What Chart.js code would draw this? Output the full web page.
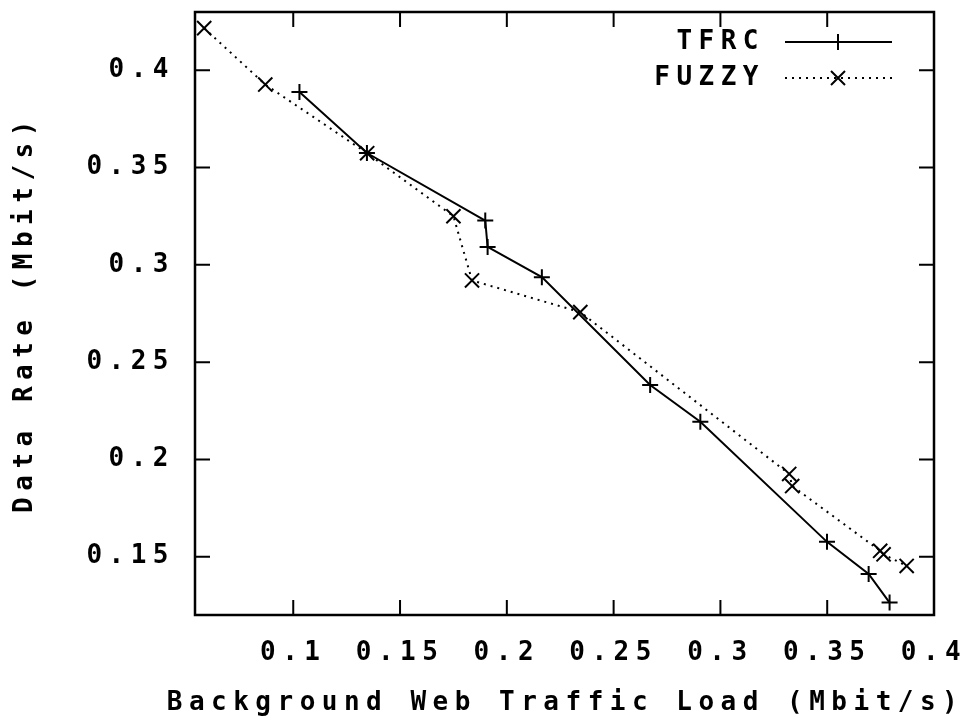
<!DOCTYPE html>
<html lang="en">
<head>
<meta charset="UTF-8">
<title>Data Rate vs Background Web Traffic Load</title>
<script src="https://cdn.jsdelivr.net/npm/chart.js"></script>
<style>
  body { margin: 0; background: #ffffff; }
  #wrap { width: 980px; height: 724px; }
</style>
</head>
<body>
<div id="wrap"><canvas id="rateChart"></canvas></div>
<script>
// values
var tfrcLoad  = [0.1029, 0.1345, 0.1899, 0.1910, 0.2164, 0.2671, 0.2906, 0.3499, 0.3694, 0.3792];
var tfrcRate  = [0.3889, 0.3575, 0.3228, 0.3092, 0.2937, 0.2382, 0.2194, 0.1576, 0.1411, 0.1264];
var fuzzyLoad = [0.0583, 0.0869, 0.1346, 0.1750, 0.1837, 0.2344, 0.3322, 0.3336, 0.3748, 0.3764, 0.3872];
var fuzzyRate = [0.4217, 0.3927, 0.3574, 0.3250, 0.2920, 0.2757, 0.1925, 0.1863, 0.1530, 0.1512, 0.1452];

var xTickVals   = [0.1, 0.15, 0.2, 0.25, 0.3, 0.35, 0.4];
var xTickLabels = ['0.1', '0.15', '0.2', '0.25', '0.3', '0.35', '0.4'];
var yTickVals   = [0.15, 0.2, 0.25, 0.3, 0.35, 0.4];
var yTickLabels = ['0.15', '0.2', '0.25', '0.3', '0.35', '0.4'];

var seriesNames = ['TFRC', 'FUZZY'];
var xTitle = 'Background Web Traffic Load (Mbit/s)';
var yTitle = 'Data Rate (Mbit/s)';

function toPoints(xs, ys) {
    return xs.map(function (x, i) { return { x: x, y: ys[i] }; });
}

var monoFont = { family: "'DejaVu Sans Mono', monospace", size: 26, weight: 'bold', lineHeight: 1.2 };
var fontCss = "bold 26px 'DejaVu Sans Mono', monospace";
var spacing = '6.5px';

// gnuplot look: boxed frame, inward mirrored ticks, legend inside top right
var gnuplotFrame = {
    id: 'gnuplotFrame',
    beforeUpdate: function (chart) { chart.ctx.letterSpacing = spacing; },
    beforeDraw: function (chart) { chart.ctx.letterSpacing = spacing; },
    afterDraw: function (chart) {
        var ctx = chart.ctx;
        var a = chart.chartArea;
        var xs = chart.scales.x, ys = chart.scales.y;
        var tick = 15;
        ctx.save();
        ctx.strokeStyle = '#000';
        ctx.lineWidth = 2.5;
        ctx.setLineDash([]);
        ctx.strokeRect(a.left, a.top, a.right - a.left, a.bottom - a.top);

        ctx.lineWidth = 2;
        ctx.beginPath();
        xTickVals.forEach(function (v) {
            var px = xs.getPixelForValue(v);
            ctx.moveTo(px, a.bottom); ctx.lineTo(px, a.bottom - tick);
            ctx.moveTo(px, a.top); ctx.lineTo(px, a.top + tick);
        });
        yTickVals.forEach(function (v) {
            var py = ys.getPixelForValue(v);
            ctx.moveTo(a.left, py); ctx.lineTo(a.left + tick, py);
            ctx.moveTo(a.right, py); ctx.lineTo(a.right - tick, py);
        });
        ctx.stroke();

        ctx.font = fontCss;
        ctx.fillStyle = '#000';
        ctx.textBaseline = 'middle';

        // x axis title, drawn without the width limit Chart.js puts on it
        ctx.textAlign = 'center';
        ctx.fillText(xTitle, (a.left + a.right) / 2 + 1, 703);

        // legend
        ctx.textAlign = 'right';
        chart.data.datasets.forEach(function (ds, i) {
            var y = 42 + i * 36;
            ctx.fillText(ds.label, 765, y);
            ctx.lineWidth = 2;
            ctx.setLineDash(ds.borderDash || []);
            ctx.beginPath();
            ctx.moveTo(785, y); ctx.lineTo(892, y);
            ctx.stroke();
            ctx.setLineDash([]);
            ctx.beginPath();
            var mx = 838;
            if (ds.pointStyle === 'cross') {
                ctx.moveTo(mx - 8, y); ctx.lineTo(mx + 8, y);
                ctx.moveTo(mx, y - 8); ctx.lineTo(mx, y + 8);
            } else {
                ctx.moveTo(mx - 7, y - 7); ctx.lineTo(mx + 7, y + 7);
                ctx.moveTo(mx - 7, y + 7); ctx.lineTo(mx + 7, y - 7);
            }
            ctx.stroke();
        });
        ctx.restore();
    }
};

var ctx = document.getElementById('rateChart').getContext('2d');
var chart = new Chart(ctx, {
    type: 'scatter',
    data: {
        datasets: [{
            label: seriesNames[0],
            data: toPoints(tfrcLoad, tfrcRate),
            showLine: true,
            borderColor: '#000',
            backgroundColor: '#000',
            borderWidth: 2,
            pointStyle: 'cross',
            pointRadius: 8,
            pointBorderWidth: 2,
            pointBorderColor: '#000'
        }, {
            label: seriesNames[1],
            data: toPoints(fuzzyLoad, fuzzyRate),
            showLine: true,
            borderColor: '#000',
            backgroundColor: '#000',
            borderWidth: 2,
            borderDash: [2, 5],
            pointStyle: 'crossRot',
            pointRadius: 10,
            pointBorderWidth: 2,
            pointBorderColor: '#000'
        }]
    },
    options: {
        responsive: true,
        maintainAspectRatio: false,
        animation: false,
        layout: { padding: { top: 11, right: 46, left: 0, bottom: 0 } },
        plugins: {
            legend: { display: false },
            tooltip: { enabled: false }
        },
        scales: {
            x: {
                type: 'linear',
                min: 0.054,
                max: 0.4,
                afterFit: function (scale) {
                    scale.height = 109;
                    scale.paddingLeft = 0;
                    scale.paddingRight = 0;
                },
                afterBuildTicks: function (scale) {
                    scale.ticks = xTickVals.map(function (v) { return { value: v }; });
                },
                grid: { display: false, drawTicks: false },
                border: { display: false },
                ticks: {
                    autoSkip: false,
                    maxRotation: 0,
                    padding: 23,
                    color: '#000',
                    font: monoFont,
                    callback: function (value) { return xTickLabels[xTickVals.indexOf(value)]; }
                },
                title: { display: false }
            },
            y: {
                type: 'linear',
                min: 0.12,
                max: 0.43,
                afterFit: function (scale) {
                    scale.width = 195;
                    scale.paddingTop = 0;
                    scale.paddingBottom = 0;
                },
                afterBuildTicks: function (scale) {
                    scale.ticks = yTickVals.map(function (v) { return { value: v }; });
                },
                grid: { display: false, drawTicks: false },
                border: { display: false },
                ticks: {
                    autoSkip: false,
                    padding: 20,
                    color: '#000',
                    font: monoFont,
                    callback: function (value) { return yTickLabels[yTickVals.indexOf(value)]; }
                },
                title: {
                    display: true,
                    text: yTitle,
                    color: '#000',
                    font: monoFont,
                    padding: { top: 10, bottom: 0 }
                }
            }
        }
    },
    plugins: [gnuplotFrame]
});
</script>
</body>
</html>
